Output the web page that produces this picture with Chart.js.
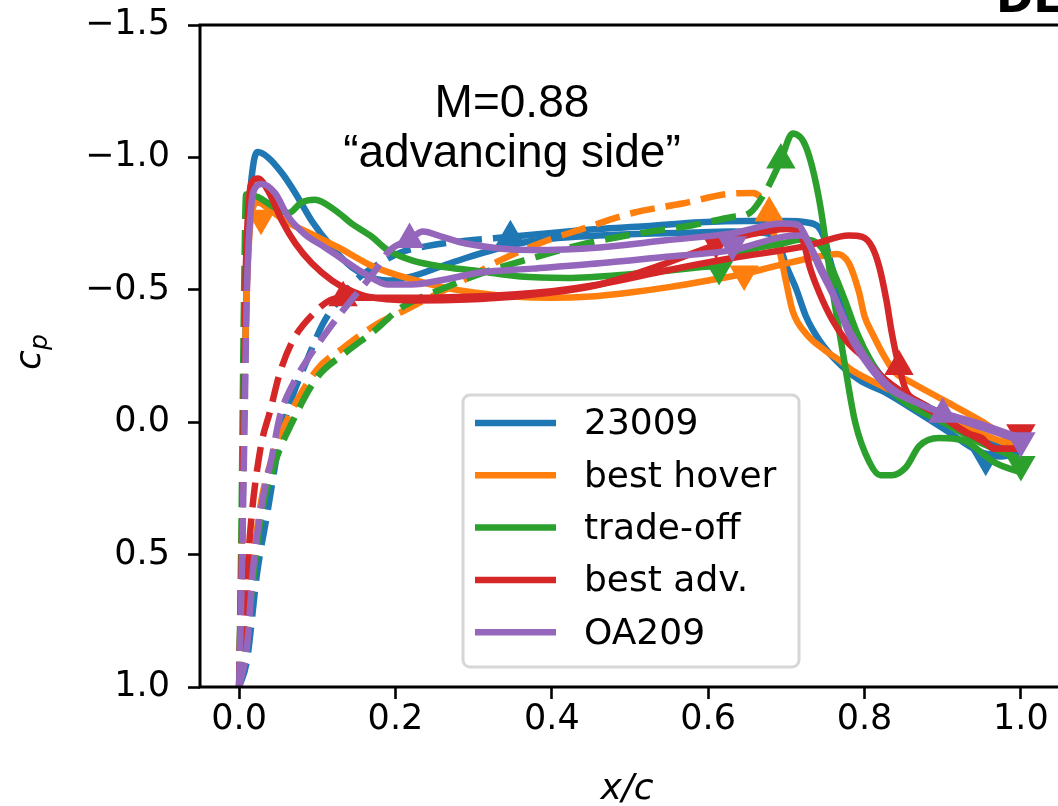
<!DOCTYPE html>
<html>
<head>
<meta charset="utf-8">
<script src="https://cdn.jsdelivr.net/npm/chart.js@4.4.1/dist/chart.umd.min.js"></script>
<style>
html, body { margin: 0; padding: 0; background: #fff; overflow: hidden; }
#cpChart { display: block; }
</style>
</head>
<body>
<canvas id="cpChart" width="1077" height="806"></canvas>
<script>
/* Cp distributions, M=0.88 advancing side */
const LABELS = ['23009', 'best hover', 'trade-off', 'best adv.', 'OA209'];
const COLORS = ['#1f77b4', '#ff7f0e', '#2ca02c', '#d62728', '#9467bd'];
const X_TICKS = [0, 0.2, 0.4, 0.6, 0.8, 1.0];
const Y_TICKS = [-1.5, -1.0, -0.5, 0, 0.5, 1.0];

// curves with the leading-edge suction peak  [x/c, cp]
const blueSolid = [[0,1.0],[0.004,0.4],[0.008,-0.3],[0.013,-0.8],[0.018,-0.97],[0.024,-1.02],[0.037,-1.0],[0.055,-0.94],[0.072,-0.865],[0.093,-0.76],[0.119,-0.66],[0.144,-0.585],[0.165,-0.55],[0.19,-0.535],[0.22,-0.55],[0.26,-0.59],[0.29,-0.62],[0.33,-0.655],[0.376,-0.685],[0.43,-0.70],[0.5,-0.71],[0.57,-0.715],[0.63,-0.72],[0.67,-0.715],[0.688,-0.69],[0.70,-0.59],[0.713,-0.50],[0.725,-0.40],[0.742,-0.31],[0.763,-0.235],[0.793,-0.16],[0.828,-0.11],[0.87,-0.034],[0.904,0.03],[0.946,0.11],[0.975,0.13],[1.0,0.11]];
const orangeSolid = [[0,1.0],[0.004,0.4],[0.008,-0.3],[0.013,-0.7],[0.019,-0.82],[0.024,-0.83],[0.04,-0.80],[0.059,-0.76],[0.093,-0.71],[0.127,-0.66],[0.17,-0.59],[0.22,-0.54],[0.26,-0.51],[0.3,-0.49],[0.35,-0.475],[0.4,-0.47],[0.45,-0.475],[0.5,-0.49],[0.55,-0.51],[0.6,-0.535],[0.646,-0.56],[0.7,-0.6],[0.74,-0.625],[0.765,-0.635],[0.78,-0.6],[0.793,-0.49],[0.80,-0.40],[0.81,-0.335],[0.828,-0.235],[0.84,-0.185],[0.86,-0.15],[0.90,-0.085],[0.946,-0.01],[0.99,0.07],[1.0,0.08]];
const greenSolid = [[0,1.0],[0.003,0.4],[0.006,-0.4],[0.009,-0.86],[0.024,-0.85],[0.046,-0.81],[0.063,-0.79],[0.08,-0.83],[0.097,-0.84],[0.123,-0.80],[0.144,-0.75],[0.17,-0.70],[0.19,-0.65],[0.222,-0.61],[0.265,-0.585],[0.308,-0.57],[0.36,-0.55],[0.419,-0.545],[0.503,-0.56],[0.589,-0.585],[0.614,-0.595],[0.64,-0.64],[0.695,-0.675],[0.72,-0.69],[0.745,-0.66],[0.76,-0.57],[0.775,-0.46],[0.79,-0.34],[0.81,-0.22],[0.83,-0.13],[0.86,-0.06],[0.90,0.0],[0.95,0.08],[1.0,0.14]];
const redSolid = [[0,1.0],[0.004,0.4],[0.008,-0.5],[0.013,-0.85],[0.017,-0.91],[0.024,-0.92],[0.037,-0.875],[0.055,-0.76],[0.072,-0.675],[0.093,-0.6],[0.119,-0.535],[0.14,-0.5],[0.163,-0.475],[0.222,-0.46],[0.308,-0.465],[0.4,-0.49],[0.461,-0.52],[0.546,-0.60],[0.61,-0.67],[0.656,-0.71],[0.70,-0.73],[0.715,-0.72],[0.722,-0.68],[0.73,-0.585],[0.742,-0.49],[0.759,-0.385],[0.776,-0.31],[0.802,-0.235],[0.823,-0.17],[0.85,-0.11],[0.88,-0.06],[0.92,0.02],[0.95,0.07],[0.97,0.1],[1.0,0.1]];
const purpleSolid = [[0,1.0],[0.004,0.5],[0.007,0.0],[0.01,-0.5],[0.015,-0.8],[0.022,-0.89],[0.029,-0.90],[0.046,-0.865],[0.063,-0.775],[0.084,-0.71],[0.11,-0.66],[0.135,-0.61],[0.161,-0.56],[0.19,-0.52],[0.22,-0.52],[0.265,-0.54],[0.308,-0.565],[0.375,-0.58],[0.461,-0.6],[0.546,-0.625],[0.631,-0.65],[0.695,-0.70],[0.72,-0.705],[0.733,-0.65],[0.75,-0.55],[0.765,-0.45],[0.78,-0.35],[0.80,-0.25],[0.83,-0.14],[0.87,-0.07],[0.92,-0.01],[0.96,0.03],[1.0,0.07]];

// curves rising from the stagnation point (dashed up to the first marker)
const blueDashed = [[0,1.0],[0.01,0.9],[0.023,0.57],[0.036,0.345],[0.052,0.068],[0.065,-0.07],[0.087,-0.235],[0.107,-0.37],[0.13,-0.47],[0.155,-0.55],[0.18,-0.60],[0.206,-0.64],[0.24,-0.665],[0.29,-0.685],[0.347,-0.70],[0.40,-0.715],[0.46,-0.73],[0.52,-0.74],[0.59,-0.755],[0.65,-0.76],[0.70,-0.76],[0.725,-0.755],[0.74,-0.74],[0.748,-0.70],[0.757,-0.60],[0.77,-0.47],[0.785,-0.36],[0.80,-0.27],[0.82,-0.18],[0.85,-0.11],[0.88,-0.06],[0.92,0.0],[0.96,0.07],[1.0,0.1]];
const orangeDashed = [[0,1.0],[0.008,0.85],[0.014,0.645],[0.027,0.32],[0.043,0.13],[0.065,-0.03],[0.1,-0.2],[0.133,-0.28],[0.176,-0.37],[0.21,-0.42],[0.25,-0.48],[0.29,-0.54],[0.333,-0.61],[0.384,-0.675],[0.444,-0.735],[0.503,-0.79],[0.567,-0.826],[0.631,-0.864],[0.657,-0.866],[0.669,-0.84],[0.678,-0.77],[0.685,-0.70],[0.691,-0.65],[0.70,-0.525],[0.708,-0.42],[0.725,-0.335],[0.75,-0.27],[0.768,-0.234],[0.784,-0.196],[0.82,-0.14],[0.86,-0.08],[0.90,-0.02],[0.946,0.04],[1.0,0.1]];
const greenDashed = [[0,1.0],[0.008,0.85],[0.015,0.67],[0.028,0.36],[0.045,0.16],[0.068,0.0],[0.1,-0.17],[0.135,-0.26],[0.175,-0.35],[0.206,-0.43],[0.257,-0.5],[0.308,-0.56],[0.375,-0.62],[0.444,-0.675],[0.512,-0.713],[0.58,-0.744],[0.631,-0.775],[0.653,-0.79],[0.674,-0.875],[0.693,-0.99],[0.708,-1.09],[0.725,-1.04],[0.742,-0.84],[0.759,-0.5],[0.773,-0.25],[0.788,0.0],[0.806,0.15],[0.82,0.2],[0.835,0.2],[0.853,0.17],[0.87,0.09],[0.895,0.06],[0.925,0.068],[0.968,0.155],[1.0,0.19]];
const redDashed = [[0,1.0],[0.008,0.7],[0.014,0.42],[0.027,0.105],[0.04,-0.045],[0.052,-0.185],[0.069,-0.31],[0.095,-0.41],[0.116,-0.46],[0.133,-0.47],[0.2,-0.47],[0.3,-0.475],[0.4,-0.495],[0.46,-0.52],[0.55,-0.575],[0.631,-0.62],[0.716,-0.66],[0.738,-0.675],[0.78,-0.705],[0.797,-0.70],[0.81,-0.66],[0.819,-0.585],[0.828,-0.46],[0.835,-0.335],[0.844,-0.21],[0.853,-0.12],[0.87,-0.07],[0.9,-0.02],[0.93,0.04],[0.95,0.06],[0.965,0.1],[0.99,0.1],[1.0,0.07]];
const purpleDashed = [[0,1.0],[0.01,0.85],[0.018,0.55],[0.03,0.295],[0.042,0.13],[0.052,-0.02],[0.069,-0.145],[0.087,-0.235],[0.107,-0.32],[0.127,-0.4],[0.146,-0.47],[0.171,-0.56],[0.193,-0.65],[0.218,-0.69],[0.235,-0.72],[0.26,-0.70],[0.29,-0.675],[0.375,-0.65],[0.461,-0.66],[0.546,-0.687],[0.63,-0.713],[0.695,-0.75],[0.715,-0.745],[0.725,-0.70],[0.742,-0.585],[0.763,-0.46],[0.78,-0.335],[0.80,-0.235],[0.83,-0.13],[0.87,-0.07],[0.9,-0.035],[0.946,0.004],[1.0,0.06]];

// triangle markers
const blueUp = [[0.347, -0.70]];
const blueDown = [[0.955, 0.14]];
const orangeUp = [[0.678, -0.79]];
const orangeDown = [[0.028, -0.77], [0.646, -0.56]];
const greenUp = [[0.693, -0.99]];
const greenDown = [[0.614, -0.58], [1.0, 0.16]];
const redUp = [[0.133, -0.47], [0.844, -0.21]];
const redDown = [[0.61, -0.68], [1.0, 0.04]];
const purpleUp = [[0.218, -0.69], [0.9, -0.03]];
const purpleDown = [[0.631, -0.67], [1.0, 0.07]];

const SOLID = [blueSolid, orangeSolid, greenSolid, redSolid, purpleSolid];
const DASHED = [blueDashed, orangeDashed, greenDashed, redDashed, purpleDashed];
const UP = [blueUp, orangeUp, greenUp, redUp, purpleUp];
const DOWN = [blueDown, orangeDown, greenDown, redDown, purpleDown];
const DASH_END = [0.347, 0.678, 0.693, 0.133, 0.218];
const LE_DASH_END = 0.01;
const DASH = [25, 11];

const pts = arr => arr.map(([x, y]) => ({ x, y }));
const FONT = '"DejaVu Sans", Verdana, sans-serif';

const datasets = [];
COLORS.forEach((c, i) => {
    const base = (5 - i) * 10;
    const lineDs = (arr, dashEnd, k) => ({
        data: pts(arr), borderColor: c, borderWidth: 6.5, pointRadius: 0, order: base + k,
        cubicInterpolationMode: 'monotone', borderCapStyle: 'butt', borderJoinStyle: 'round', fill: false,
        segment: { borderDash: ctx => (ctx.p1.parsed.x <= dashEnd ? DASH : []) }
    });
    datasets.push(lineDs(SOLID[i], LE_DASH_END, 1));
    datasets.push(lineDs(DASHED[i], DASH_END[i], 2));
    [[UP[i], 0], [DOWN[i], 180]].forEach(([m, rot]) => datasets.push({
        type: 'scatter', data: pts(m), showLine: false, pointStyle: 'triangle', rotation: rot,
        pointRadius: 17, pointHoverRadius: 17, backgroundColor: c, borderColor: c, borderWidth: 0, order: base
    }));
});

const decor = {
    id: 'decor',
    afterDatasetsDraw(chart) {
        const { ctx, chartArea: a, scales: { x, y } } = chart;
        ctx.save();
        ctx.strokeStyle = '#000';
        ctx.lineWidth = 3;
        ctx.strokeRect(a.left, a.top, a.right - a.left, a.bottom - a.top);

        // annotation
        ctx.fillStyle = '#000';
        ctx.textAlign = 'center';
        ctx.textBaseline = 'alphabetic';
        ctx.font = '46px "Liberation Sans", Arial, sans-serif';
        ctx.fillText('M=0.88', x.getPixelForValue(0.349), y.getPixelForValue(-1.153));
        ctx.fillText('\u201Cadvancing side\u201D', x.getPixelForValue(0.349), y.getPixelForValue(-0.964));

        // legend
        const L = 463, T = 395, W = 336, H = 272, r = 7;
        ctx.beginPath();
        ctx.moveTo(L + r, T);
        ctx.arcTo(L + W, T, L + W, T + H, r);
        ctx.arcTo(L + W, T + H, L, T + H, r);
        ctx.arcTo(L, T + H, L, T, r);
        ctx.arcTo(L, T, L + W, T, r);
        ctx.closePath();
        ctx.fillStyle = 'rgba(255,255,255,0.8)';
        ctx.fill();
        ctx.strokeStyle = '#d6d6d6';
        ctx.lineWidth = 3;
        ctx.stroke();
        ctx.font = '36px ' + FONT;
        ctx.textAlign = 'left';
        ctx.textBaseline = 'middle';
        LABELS.forEach((lab, i) => {
            const yy = 423 + i * 52.3;
            ctx.strokeStyle = COLORS[i];
            ctx.lineWidth = 6.5;
            ctx.beginPath();
            ctx.moveTo(475, yy);
            ctx.lineTo(556, yy);
            ctx.stroke();
            ctx.fillStyle = '#000';
            ctx.fillText(lab, 584, yy + 2);
        });

        // axis titles
        ctx.textAlign = 'center';
        ctx.textBaseline = 'alphabetic';
        ctx.font = 'italic 36px ' + FONT;
        ctx.fillText('x/c', 627, 799);
        ctx.save();
        ctx.translate(40, 362);
        ctx.rotate(-Math.PI / 2);
        ctx.textAlign = 'left';
        ctx.font = 'italic 36px ' + FONT;
        ctx.fillText('c', -8, 0);
        ctx.font = 'italic 25px ' + FONT;
        ctx.fillText('p', 12, 7);
        ctx.restore();

        // cropped panel letters at the top edge
        ctx.textAlign = 'left';
        ctx.font = 'bold 45px ' + FONT;
        ctx.fillText('DE', 996, 12);
        ctx.restore();
    }
};

new Chart(document.getElementById('cpChart').getContext('2d'), {
    type: 'line',
    data: { datasets },
    options: {
        responsive: false, animation: false,
        layout: { padding: { top: 25, right: 1, left: 0, bottom: 0 } },
        plugins: { legend: { display: false }, tooltip: { enabled: false } },
        scales: {
            x: {
                type: 'linear', min: -0.05, max: 1.05,
                afterFit: s => { s.height = 119; s.paddingLeft = 0; s.paddingRight = 0; },
                afterBuildTicks: s => { s.ticks = X_TICKS.map(v => ({ value: v })); },
                ticks: { color: '#000', font: { family: FONT, size: 35 }, padding: 0, maxRotation: 0, autoSkip: false,
                    callback: v => v.toFixed(1) },
                grid: { drawOnChartArea: false, drawTicks: true, tickLength: 12, tickWidth: 2.6, tickColor: '#000' },
                border: { display: false }
            },
            y: {
                type: 'linear', min: -1.5, max: 1.0, reverse: true,
                afterFit: s => { s.width = 200; s.paddingTop = 0; s.paddingBottom = 0; },
                afterBuildTicks: s => { s.ticks = Y_TICKS.map(v => ({ value: v })); },
                ticks: { color: '#000', font: { family: FONT, size: 35 }, padding: 18, autoSkip: false,
                    callback: v => (v < 0 ? '\u2212' : '') + Math.abs(v).toFixed(1) },
                grid: { drawOnChartArea: false, drawTicks: true, tickLength: 12, tickWidth: 2.6, tickColor: '#000' },
                border: { display: false }
            }
        }
    },
    plugins: [decor]
});
</script>
</body>
</html>
